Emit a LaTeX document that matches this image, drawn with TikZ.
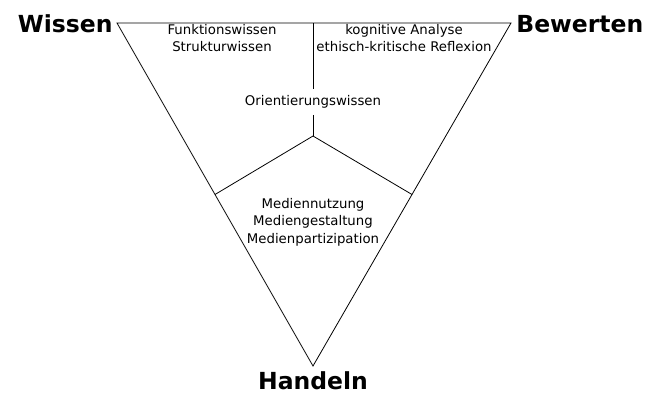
\documentclass[tikz,border=0pt]{standalone}
\usepackage{fontspec}
\setmainfont{DejaVu Sans}
\usetikzlibrary{positioning,calc}
\tikzset{ecke/.style={font=\bfseries\fontsize{23.5}{28}\selectfont,inner sep=0pt}}
\tikzset{inhalt/.style={font=\fontsize{13.3}{17.5}\selectfont,align=center,inner sep=0pt}}

\begin{document}
\begin{tikzpicture}[
		x = 1pt, y = -1pt, % pixel grid
		line width = 0.8pt, % line style
		node distance = 4pt % label gap
		]
		
		\useasboundingbox (0,0) rectangle (662,394);
		
		% corners
		\coordinate (W) at (117,23);
		\coordinate (B) at (511,23);
		\coordinate (H) at (313,366);
		\coordinate (T) at (313,23);
		\coordinate (M) at (313,136);
		\coordinate (L) at ($(W)!0.5!(H)$);
		\coordinate (R) at ($(B)!0.5!(H)$);
		
		\node[ecke, anchor=east] (wissen) [left=of W, yshift=-1pt] {Wissen};
		\node[ecke, anchor=west] (bewerten) [right=5pt of B, yshift=-1pt] {Bewerten};
		\node[ecke, anchor=north] (handeln) [below=5pt of H] {Handeln};
		
		\node[inhalt] (fs) at (222,38) {Funktionswissen\\Strukturwissen};
		\node[inhalt] (ka) at (404,38) {kognitive Analyse\\ethisch-kritische Reflexion};
		\node[inhalt, inner sep=6pt] (ow) at (313,102) {Orientierungswissen};
		\node[inhalt] (mn) at (313,222) {Mediennutzung\\Mediengestaltung\\Medienpartizipation};
		
		% Triangle
		\draw (W) -- (B) -- (H) -- cycle;
		
		% Inner
		\draw (T) -- (ow);
		\draw (ow) -- (M);
		\draw (L) -- (M) -- (R);
		\end{tikzpicture}
\end{document}
